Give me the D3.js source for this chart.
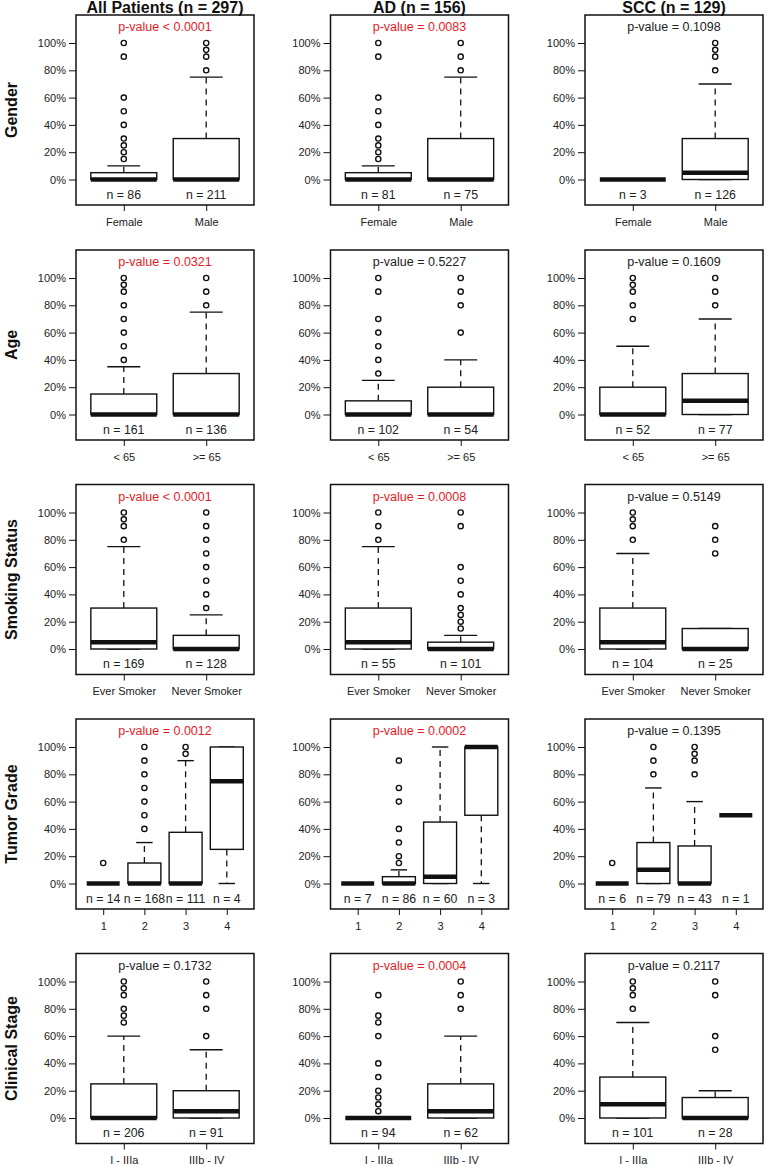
<!DOCTYPE html>
<html><head><meta charset="utf-8">
<script src="https://cdn.jsdelivr.net/npm/d3@7"></script>
<style>
body{margin:0;background:#fff;}
svg{display:block;font-family:"Liberation Sans",Arial,sans-serif;}
</style></head><body><svg id="c" width="767" height="1166"></svg>
<script>
const columnTitles = ["All Patients (n = 297)", "AD (n = 156)", "SCC (n = 129)"];
const rowLabels = ["Gender", "Age", "Smoking Status", "Tumor Grade", "Clinical Stage"];
const yTicks = [0, 20, 40, 60, 80, 100];

// Box stats per group: [lower whisker, Q1, median, Q3, upper whisker] (%)
// Gender
const genderCats = ["Female", "Male"];
const genderN = [[86, 211], [81, 75], [3, 126]];
const genderP = ["p-value < 0.0001", "p-value = 0.0083", "p-value = 0.1098"];
const genderSig = [true, true, false];
const genderBoxes = [
  [[0,0,0,5,10], [0,0,0,30,75]],
  [[0,0,0,5,10], [0,0,0,30,75]],
  [[0,0,0,0,0], [0,0,5,30,70]]
];
const genderOutliers = [
  [[15,20,25,30,40,50,60,90,100], [80,90,95,100]],
  [[15,20,25,30,40,50,60,90,100], [80,90,100]],
  [[], [80,90,95,100]]
];

// Age
const ageCats = ["< 65", ">= 65"];
const ageN = [[161, 136], [102, 54], [52, 77]];
const ageP = ["p-value = 0.0321", "p-value = 0.5227", "p-value = 0.1609"];
const ageSig = [true, false, false];
const ageBoxes = [
  [[0,0,0,15,35], [0,0,0,30,75]],
  [[0,0,0,10,25], [0,0,0,20,40]],
  [[0,0,0,20,50], [0,0,10,30,70]]
];
const ageOutliers = [
  [[40,50,60,70,80,90,95,100], [80,90,100]],
  [[30,40,50,60,70,90,100], [60,80,90,100]],
  [[70,80,90,95,100], [80,90,100]]
];

// Smoking Status
const smokeCats = ["Ever Smoker", "Never Smoker"];
const smokeN = [[169, 128], [55, 101], [104, 25]];
const smokeP = ["p-value < 0.0001", "p-value = 0.0008", "p-value = 0.5149"];
const smokeSig = [true, true, false];
const smokeBoxes = [
  [[0,0,5,30,75], [0,0,0,10,25]],
  [[0,0,5,30,75], [0,0,0,5,10]],
  [[0,0,5,30,70], [0,0,0,15,15]]
];
const smokeOutliers = [
  [[80,90,95,100], [30,40,50,60,70,80,90,100]],
  [[80,90,100], [15,20,25,30,40,50,60,90,100]],
  [[80,90,95,100], [70,80,90]]
];

// Tumor Grade
const gradeCats = ["1", "2", "3", "4"];
const gradeN = [[14, 168, 111, 4], [7, 86, 60, 3], [6, 79, 43, 1]];
const gradeP = ["p-value = 0.0012", "p-value = 0.0002", "p-value = 0.1395"];
const gradeSig = [true, true, false];
const gradeBoxes = [
  [[0,0,0,0,0], [0,0,0,15,30], [0,0,0,37.5,90], [0,25,75,100,100]],
  [[0,0,0,0,0], [0,0,0,5,10], [0,0,5,45,100], [0,50,100,100,100]],
  [[0,0,0,0,0], [0,0,10,30,70], [0,0,0,27.5,60], [50,50,50,50,50]]
];
const gradeOutliers = [
  [[15], [40,50,60,70,80,90,100], [95,100], []],
  [[], [15,20,30,40,60,70,90], [], []],
  [[15], [80,90,100], [80,90,95,100], []]
];

// Clinical Stage
const stageCats = ["I - IIIa", "IIIb - IV"];
const stageN = [[206, 91], [94, 62], [101, 28]];
const stageP = ["p-value = 0.1732", "p-value = 0.0004", "p-value = 0.2117"];
const stageSig = [false, true, false];
const stageBoxes = [
  [[0,0,0,25,60], [0,0,5,20,50]],
  [[0,0,0,0,0], [0,0,5,25,60]],
  [[0,0,10,30,70], [0,0,0,15,20]]
];
const stageOutliers = [
  [[70,75,80,90,95,100], [60,80,90,100]],
  [[5,10,15,20,30,40,60,70,75,90], [80,90,100]],
  [[80,90,95,100], [50,60,90,100]]
];

const rows = [
  {cats: genderCats, n: genderN, p: genderP, sig: genderSig, boxes: genderBoxes, out: genderOutliers},
  {cats: ageCats, n: ageN, p: ageP, sig: ageSig, boxes: ageBoxes, out: ageOutliers},
  {cats: smokeCats, n: smokeN, p: smokeP, sig: smokeSig, boxes: smokeBoxes, out: smokeOutliers},
  {cats: gradeCats, n: gradeN, p: gradeP, sig: gradeSig, boxes: gradeBoxes, out: gradeOutliers},
  {cats: stageCats, n: stageN, p: stageP, sig: stageSig, boxes: stageBoxes, out: stageOutliers}
];

const svg = d3.select("#c");
const colLeft = [76, 330.5, 585];
const rowTop = [15, 250, 484.5, 719, 953.5];
const panelW = 178, panelH = 190;
const TXT = "#222", LINE = "#111";

columnTitles.forEach((t, c) => {
  svg.append("text").attr("x", colLeft[c] + panelW / 2).attr("y", 7).attr("dy", "0.35em")
    .attr("text-anchor", "middle").attr("font-size", 16).attr("font-weight", "bold")
    .attr("fill", "#111").text(t);
});

rows.forEach((row, r) => {
  svg.append("text")
    .attr("transform", `translate(11,${rowTop[r] + panelH / 2}) rotate(-90)`)
    .attr("dy", "0.35em").attr("text-anchor", "middle")
    .attr("font-size", 16).attr("font-weight", "bold").attr("fill", "#111")
    .text(rowLabels[r]);

  for (let c = 0; c < 3; c++) {
    const g = svg.append("g").attr("transform", `translate(${colLeft[c]},${rowTop[r]})`);
    const k = row.cats.length;
    const x = d3.scaleLinear().domain([0.5 - 0.04 * k, k + 0.5 + 0.04 * k]).range([0, panelW]);
    const y = d3.scaleLinear().domain([0, 100]).range([164.5, 28]);
    const half = x(1.4) - x(1);

    const ya = g.append("g").call(d3.axisLeft(y).tickValues(yTicks).tickFormat(d => d + "%")
      .tickSize(7).tickPadding(3).tickSizeOuter(0));
    ya.select(".domain").remove();
    ya.selectAll("line").attr("stroke", LINE);
    ya.selectAll("text").attr("font-size", 11).attr("fill", TXT).attr("font-family", null);

    const xa = g.append("g").attr("transform", `translate(0,${panelH})`)
      .call(d3.axisBottom(x).tickValues(d3.range(1, k + 1)).tickFormat(i => row.cats[i - 1])
        .tickSize(6).tickPadding(7).tickSizeOuter(0));
    xa.select(".domain").remove();
    xa.selectAll("line").attr("stroke", LINE);
    xa.selectAll("text").attr("font-size", 11).attr("fill", TXT).attr("font-family", null);

    row.boxes[c].forEach((b, i) => {
      const cx = x(i + 1);
      // whiskers
      [[b[3], b[4]], [b[1], b[0]]].forEach(([a, e]) => {
        if (e !== a) {
          g.append("line").attr("x1", cx).attr("x2", cx).attr("y1", y(a)).attr("y2", y(e))
            .attr("stroke", LINE).attr("stroke-width", 1.3).attr("stroke-dasharray", "6,5");
        }
        g.append("line").attr("x1", cx - half / 2).attr("x2", cx + half / 2)
          .attr("y1", y(e)).attr("y2", y(e)).attr("stroke", LINE).attr("stroke-width", 1.4);
      });
      g.append("rect").attr("x", cx - half).attr("width", 2 * half)
        .attr("y", y(b[3])).attr("height", y(b[1]) - y(b[3]))
        .attr("fill", "#fff").attr("stroke", LINE).attr("stroke-width", 1.4);
      g.append("line").attr("x1", cx - half).attr("x2", cx + half)
        .attr("y1", y(b[2])).attr("y2", y(b[2])).attr("stroke", LINE).attr("stroke-width", 4.5);

      g.selectAll(null).data(row.out[c][i]).enter().append("circle")
        .attr("cx", cx).attr("cy", d => y(d)).attr("r", 2.6)
        .attr("fill", "none").attr("stroke", LINE).attr("stroke-width", 1.4);

      g.append("text").attr("x", cx).attr("y", y(0) + 15).attr("dy", "0.35em")
        .attr("text-anchor", "middle").attr("font-size", 12.3).attr("fill", TXT)
        .text("n = " + row.n[c][i]);
    });

    g.append("text").attr("x", panelW / 2).attr("y", 12).attr("dy", "0.35em")
      .attr("text-anchor", "middle").attr("font-size", 12.5)
      .attr("fill", row.sig[c] ? "#e8191f" : TXT).text(row.p[c]);

    g.append("rect").attr("width", panelW).attr("height", panelH)
      .attr("fill", "none").attr("stroke", LINE).attr("stroke-width", 1.5);
  }
});
</script></body></html>
